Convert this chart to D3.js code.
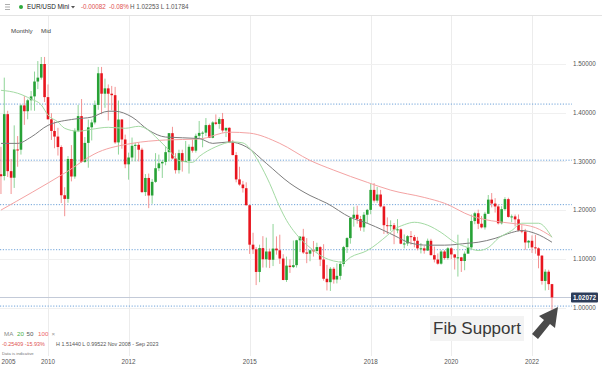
<!DOCTYPE html>
<html><head><meta charset="utf-8">
<script src="https://cdn.jsdelivr.net/npm/d3@7"></script>
<style>
body{margin:0;background:#fff;}
svg{display:block;font-family:"Liberation Sans",Arial,sans-serif;}
</style>
</head><body>
<svg id="chart" width="602" height="366"></svg>
<script>
// ---------- DATA ----------
const months = [
"2008-11","2008-12",
"2009-01","2009-02","2009-03","2009-04","2009-05","2009-06","2009-07","2009-08","2009-09","2009-10","2009-11","2009-12",
"2010-01","2010-02","2010-03","2010-04","2010-05","2010-06","2010-07","2010-08","2010-09","2010-10","2010-11","2010-12",
"2011-01","2011-02","2011-03","2011-04","2011-05","2011-06","2011-07","2011-08","2011-09","2011-10","2011-11","2011-12",
"2012-01","2012-02","2012-03","2012-04","2012-05","2012-06","2012-07","2012-08","2012-09","2012-10","2012-11","2012-12",
"2013-01","2013-02","2013-03","2013-04","2013-05","2013-06","2013-07","2013-08","2013-09","2013-10","2013-11","2013-12",
"2014-01","2014-02","2014-03","2014-04","2014-05","2014-06","2014-07","2014-08","2014-09","2014-10","2014-11","2014-12",
"2015-01","2015-02","2015-03","2015-04","2015-05","2015-06","2015-07","2015-08","2015-09","2015-10","2015-11","2015-12",
"2016-01","2016-02","2016-03","2016-04","2016-05","2016-06","2016-07","2016-08","2016-09","2016-10","2016-11","2016-12",
"2017-01","2017-02","2017-03","2017-04","2017-05","2017-06","2017-07","2017-08","2017-09","2017-10","2017-11","2017-12",
"2018-01","2018-02","2018-03","2018-04","2018-05","2018-06","2018-07","2018-08","2018-09","2018-10","2018-11","2018-12",
"2019-01","2019-02","2019-03","2019-04","2019-05","2019-06","2019-07","2019-08","2019-09","2019-10","2019-11","2019-12",
"2020-01","2020-02","2020-03","2020-04","2020-05","2020-06","2020-07","2020-08","2020-09","2020-10","2020-11","2020-12",
"2021-01","2021-02","2021-03","2021-04","2021-05","2021-06","2021-07","2021-08","2021-09","2021-10","2021-11","2021-12",
"2022-01","2022-02","2022-03","2022-04","2022-05","2022-06","2022-07"];

const open = [
1.2736,1.2700,
1.3970,1.2800,1.2665,1.3245,1.3240,1.4150,1.4030,1.4255,1.4335,1.4640,1.4720,1.5000,
1.4320,1.3865,1.3625,1.3510,1.3295,1.2305,1.2230,1.3050,1.2690,1.3630,1.3930,1.2990,
1.3380,1.3700,1.3800,1.4160,1.4810,1.4390,1.4500,1.4390,1.4360,1.3390,1.3860,1.3450,
1.2940,1.3080,1.3320,1.3340,1.3240,1.2370,1.2660,1.2300,1.2580,1.2860,1.2960,1.2990,
1.3190,1.3580,1.3060,1.2820,1.3170,1.2995,1.3010,1.3300,1.3220,1.3525,1.3585,1.3590,
1.3745,1.3485,1.3800,1.3770,1.3870,1.3635,1.3690,1.3390,1.3130,1.2630,1.2525,1.2450,
1.2100,1.1290,1.1195,1.0730,1.1220,1.0990,1.1150,1.0980,1.1210,1.1175,1.1005,1.0565,
1.0860,1.0830,1.0870,1.1380,1.1455,1.1130,1.1105,1.1175,1.1160,1.1240,1.0985,1.0590,
1.0520,1.0795,1.0575,1.0650,1.0895,1.1240,1.1425,1.1840,1.1905,1.1815,1.1645,1.1905,
1.2005,1.2415,1.2195,1.2320,1.2075,1.1690,1.1685,1.1690,1.1600,1.1605,1.1310,1.1315,
1.1465,1.1445,1.1370,1.1215,1.1215,1.1170,1.1370,1.1075,1.0985,1.0900,1.1150,1.1015,
1.1215,1.1090,1.1025,1.1030,1.0955,1.1105,1.1235,1.1775,1.1935,1.1720,1.1645,1.1925,
1.2215,1.2135,1.2075,1.1730,1.2020,1.2225,1.1860,1.1870,1.1810,1.1580,1.1560,1.1335,
1.1370,1.1235,1.1215,1.1065,1.0545,1.0735,1.0480];

const high = [
1.3300,1.4720,
1.4040,1.3050,1.3740,1.3520,1.4170,1.4340,1.4285,1.4445,1.4845,1.5060,1.5144,1.5145,
1.4580,1.3990,1.3820,1.3690,1.3330,1.2470,1.3110,1.3335,1.3680,1.4160,1.4280,1.3500,
1.3860,1.3860,1.4250,1.4940,1.4940,1.4700,1.4580,1.4550,1.4530,1.4250,1.3870,1.3550,
1.3180,1.3490,1.3385,1.3380,1.3280,1.2740,1.2750,1.2640,1.3170,1.3140,1.3030,1.3310,
1.3580,1.3710,1.3170,1.3240,1.3240,1.3420,1.3350,1.3450,1.3570,1.3830,1.3620,1.3890,
1.3775,1.3825,1.3965,1.3905,1.3995,1.3680,1.3700,1.3440,1.3190,1.2890,1.2600,1.2570,
1.2105,1.1535,1.1240,1.1290,1.1465,1.1435,1.1210,1.1715,1.1460,1.1495,1.1095,1.1045,
1.0990,1.1375,1.1390,1.1465,1.1615,1.1425,1.1185,1.1365,1.1330,1.1260,1.1300,1.0875,
1.0830,1.0830,1.0905,1.0950,1.1265,1.1445,1.1850,1.2070,1.2090,1.1880,1.1960,1.2025,
1.2535,1.2555,1.2475,1.2415,1.2095,1.1850,1.1790,1.1735,1.1815,1.1625,1.1500,1.1485,
1.1570,1.1490,1.1450,1.1325,1.1265,1.1415,1.1410,1.1250,1.1110,1.1180,1.1180,1.1240,
1.1240,1.1100,1.1495,1.1040,1.1150,1.1420,1.1910,1.1965,1.2010,1.1880,1.1965,1.2310,
1.2350,1.2245,1.2115,1.2080,1.2265,1.2255,1.1910,1.1910,1.1910,1.1690,1.1615,1.1385,
1.1480,1.1495,1.1235,1.1075,1.0785,1.0775,1.0485];

const low = [
1.2330,1.2610,
1.2680,1.2330,1.2455,1.2890,1.3140,1.3750,1.3865,1.4045,1.4040,1.4485,1.4680,1.4220,
1.3860,1.3440,1.3270,1.3120,1.2145,1.1875,1.2150,1.2590,1.2645,1.3600,1.2970,1.2970,
1.2870,1.3430,1.3760,1.4060,1.3970,1.4100,1.3840,1.4050,1.3360,1.3140,1.3260,1.2860,
1.2625,1.3000,1.3000,1.3000,1.2350,1.2290,1.2040,1.2130,1.2560,1.2800,1.2660,1.2920,
1.3000,1.3040,1.2750,1.2750,1.2790,1.2990,1.2750,1.3180,1.3180,1.3480,1.3290,1.3520,
1.3480,1.3475,1.3745,1.3670,1.3590,1.3500,1.3375,1.3125,1.2570,1.2500,1.2360,1.2095,
1.1100,1.1100,1.0460,1.0520,1.0820,1.0820,1.0810,1.0850,1.1085,1.0895,1.0560,1.0525,
1.0710,1.0810,1.0820,1.1140,1.1100,1.0910,1.0950,1.1045,1.1120,1.0850,1.0550,1.0350,
1.0340,1.0490,1.0495,1.0570,1.0840,1.1120,1.1310,1.1660,1.1720,1.1575,1.1555,1.1720,
1.1915,1.2155,1.2150,1.2055,1.1510,1.1510,1.1575,1.1300,1.1525,1.1300,1.1215,1.1265,
1.1290,1.1235,1.1175,1.1110,1.1105,1.1160,1.1070,1.0925,1.0880,1.0880,1.0980,1.0980,
1.0990,1.0780,1.0635,1.0730,1.0765,1.1170,1.1185,1.1710,1.1610,1.1625,1.1600,1.1920,
1.2055,1.1950,1.1705,1.1705,1.1985,1.1845,1.1750,1.1665,1.1565,1.1525,1.1185,1.1220,
1.1120,1.1105,1.0805,1.0470,1.0350,1.0360,0.9952];

const close = [
1.2695,1.3970,
1.2800,1.2665,1.3245,1.3240,1.4150,1.4030,1.4255,1.4335,1.4640,1.4720,1.5000,1.4320,
1.3865,1.3625,1.3510,1.3295,1.2305,1.2230,1.3050,1.2690,1.3630,1.3930,1.2990,1.3380,
1.3700,1.3800,1.4160,1.4810,1.4390,1.4500,1.4390,1.4360,1.3390,1.3860,1.3450,1.2940,
1.3080,1.3320,1.3340,1.3240,1.2370,1.2660,1.2300,1.2580,1.2860,1.2960,1.2990,1.3190,
1.3580,1.3060,1.2820,1.3170,1.2995,1.3010,1.3300,1.3220,1.3525,1.3585,1.3590,1.3745,
1.3485,1.3800,1.3770,1.3870,1.3635,1.3690,1.3390,1.3130,1.2630,1.2525,1.2450,1.2100,
1.1290,1.1195,1.0730,1.1220,1.0990,1.1150,1.0980,1.1210,1.1175,1.1005,1.0565,1.0860,
1.0830,1.0870,1.1380,1.1455,1.1130,1.1105,1.1175,1.1160,1.1240,1.0985,1.0590,1.0520,
1.0795,1.0575,1.0650,1.0895,1.1240,1.1425,1.1840,1.1905,1.1815,1.1645,1.1905,1.2005,
1.2415,1.2195,1.2320,1.2075,1.1690,1.1685,1.1690,1.1600,1.1605,1.1310,1.1315,1.1465,
1.1445,1.1370,1.1215,1.1215,1.1170,1.1370,1.1075,1.0985,1.0900,1.1150,1.1015,1.1215,
1.1090,1.1025,1.1030,1.0955,1.1105,1.1235,1.1775,1.1935,1.1720,1.1645,1.1925,1.2215,
1.2135,1.2075,1.1730,1.2020,1.2225,1.1860,1.1870,1.1810,1.1580,1.1560,1.1335,1.1370,
1.1235,1.1215,1.1065,1.0545,1.0735,1.0480,1.0207];

// Moving averages
const ma20Months = ["2008-11","2009-04","2009-08","2009-11","2010-01","2010-04","2010-06","2010-10","2011-02","2011-07","2011-12","2012-04","2012-06","2012-10","2013-01","2013-04","2013-08","2013-10","2014-03","2014-08","2014-11","2015-01","2015-04","2015-07","2015-10","2015-12","2016-02","2016-04","2016-07","2016-11","2017-05","2017-07","2017-12","2018-06","2018-08","2018-11","2019-02","2019-06","2019-10","2020-02","2020-06","2020-09","2020-12","2021-03","2021-07","2021-10","2022-03","2022-07"];
const ma20Values = [1.446,1.440,1.428,1.416,1.395,1.381,1.368,1.362,1.366,1.370,1.368,1.372,1.368,1.344,1.323,1.302,1.298,1.310,1.330,1.340,1.338,1.327,1.296,1.255,1.206,1.179,1.158,1.142,1.123,1.103,1.093,1.103,1.117,1.148,1.160,1.170,1.175,1.169,1.154,1.134,1.123,1.117,1.123,1.142,1.158,1.173,1.173,1.144];

const ma50Months = ["2008-11","2009-04","2009-08","2010-01","2010-09","2011-02","2011-07","2011-09","2012-02","2012-07","2012-12","2013-10","2014-02","2014-07","2014-12","2015-06","2016-01","2016-07","2016-12","2017-07","2017-12","2018-05","2018-08","2019-01","2019-06","2019-11","2020-06","2020-09","2021-02","2021-07","2021-10","2022-02","2022-07"];
const ma50Values = [1.337,1.337,1.350,1.374,1.387,1.391,1.403,1.403,1.391,1.364,1.350,1.347,1.337,1.340,1.330,1.296,1.255,1.230,1.214,1.185,1.173,1.158,1.148,1.132,1.128,1.128,1.132,1.134,1.142,1.154,1.158,1.152,1.134];

const ma100Months = ["2008-11","2010-06","2011-04","2012-02","2012-12","2013-10","2014-07","2015-01","2015-10","2016-07","2017-02","2017-12","2018-07","2019-05","2019-11","2020-07","2021-01","2021-08","2022-02","2022-07"];
const ma100Values = [1.200,1.276,1.319,1.337,1.344,1.346,1.360,1.358,1.337,1.302,1.282,1.257,1.241,1.226,1.214,1.188,1.178,1.172,1.164,1.145];

const fibLevels = [1.4177, 1.3025, 1.2112, 1.1187, 1.0029];
const priceTicks = [1.0, 1.1, 1.2, 1.3, 1.4, 1.5];
const yearTickMonths = ["2009-01","2010-01","2012-01","2015-01","2018-01","2020-01","2022-01"];
const yearTickLabels = ["2005","2010","2012","2015","2018","2020","2022"];
const gridMonths = ["2010-01","2012-01","2015-01","2018-01","2020-01","2022-01"];
const lastPrice = 1.02072;

// ---------- DRAW ----------
const svg = d3.select("#chart");
const W = 602, H = 366;
const parse = d3.timeParse("%Y-%m");
const x = d3.scaleTime().domain([parse("2010-01"), parse("2022-01")]).range([48, 532]);
const y = d3.scaleLinear().domain([1.0, 1.5]).range([307.5, 64]);

const plotRight = 566;
svg.append("defs").append("clipPath").attr("id","clip")
  .append("rect").attr("x",0).attr("y",16).attr("width",plotRight).attr("height",300);

// header
svg.append("line").attr("x1",0).attr("x2",W).attr("y1",15.5).attr("y2",15.5).attr("stroke","#e3e3e3");
const hdr = svg.append("g");
[4.5,7,9.5].forEach(v=>hdr.append("line").attr("x1",5).attr("x2",10).attr("y1",v).attr("y2",v).attr("stroke","#999").attr("stroke-width",0.8));
hdr.append("circle").attr("cx",21).attr("cy",7).attr("r",2).attr("fill","#2eaa3c");
hdr.append("text").attr("x",27).attr("y",9.3).attr("font-size",6.4).attr("fill","#222").text("EUR/USD Mini");
hdr.append("path").attr("d","M71,6 L75,6 L73,8.5 Z").attr("fill","#555");
hdr.append("text").attr("x",81).attr("y",9.3).attr("font-size",6.3).attr("fill","#e0524f").text("-0.00082");
hdr.append("text").attr("x",109).attr("y",9.3).attr("font-size",6.3).attr("fill","#e0524f").text("-0.08%");
hdr.append("text").attr("x",130).attr("y",9.3).attr("font-size",6.3).attr("fill","#555").text("H 1.02253 L 1.01784");

// vertical grid
svg.append("g").selectAll("line").data(gridMonths).join("line")
  .attr("x1",d=>Math.round(x(parse(d)))+0.5).attr("x2",d=>Math.round(x(parse(d)))+0.5)
  .attr("y1",16).attr("y2",356).attr("stroke","#ececec").attr("stroke-width",1);

// horizontal grid
svg.append("g").selectAll("line").data(priceTicks).join("line")
  .attr("x1",0).attr("x2",plotRight).attr("y1",d=>Math.round(y(d))+0.5).attr("y2",d=>Math.round(y(d))+0.5)
  .attr("stroke","#f0f0f0");

svg.append("text").attr("x",11).attr("y",33).attr("font-size",6.2).attr("fill","#444").text("Monthly");
svg.append("text").attr("x",41).attr("y",33).attr("font-size",6.2).attr("fill","#444").text("Mid");

// fib dotted lines
svg.append("g").selectAll("line").data(fibLevels).join("line")
  .attr("x1",0).attr("x2",572).attr("y1",d=>y(d)).attr("y2",d=>y(d))
  .attr("stroke","#6fa3d9").attr("stroke-width",1).attr("stroke-dasharray","1.2,1.6");

// last price line
svg.append("line").attr("x1",0).attr("x2",571).attr("y1",Math.round(y(lastPrice))+0.5).attr("y2",Math.round(y(lastPrice))+0.5)
  .attr("stroke","#c3cad8").attr("stroke-width",1);

// candles
const candles = months.map((m,i)=>({t:parse(m),o:open[i],h:high[i],l:low[i],c:close[i]}));
const cg = svg.append("g").attr("clip-path","url(#clip)");
const bw = 2.6;
cg.selectAll("line.w").data(candles).join("line").attr("class","w")
  .attr("x1",d=>x(d.t)).attr("x2",d=>x(d.t))
  .attr("y1",d=>y(d.h)).attr("y2",d=>y(d.l))
  .attr("stroke",d=>d.c>=d.o?"#8fd498":"#f39393").attr("stroke-width",1);
cg.selectAll("rect.b").data(candles).join("rect").attr("class","b")
  .attr("x",d=>x(d.t)-bw/2).attr("width",bw)
  .attr("y",d=>y(Math.max(d.o,d.c)))
  .attr("height",d=>Math.max(1,Math.abs(y(d.o)-y(d.c))))
  .attr("fill",d=>d.c>=d.o?"#27a236":"#e8151e");

// moving averages
function drawMA(ms, vs, color){
  const pts = ms.map((m,i)=>[x(parse(m)), y(vs[i])]);
  cg.append("path").attr("d", d3.line().curve(d3.curveMonotoneX)(pts))
    .attr("fill","none").attr("stroke",color).attr("stroke-width",1);
}
drawMA(ma100Months, ma100Values, "#f4a3a3");
drawMA(ma50Months, ma50Values, "#7d7d7d");
drawMA(ma20Months, ma20Values, "#a3daa3");

// right axis labels
const fmt = d3.format(".5f");
svg.append("g").selectAll("text").data(priceTicks).join("text")
  .attr("x",573).attr("y",d=>y(d)+2.2).attr("font-size",6.3).attr("fill","#555").text(d=>fmt(d));

// last price box
svg.append("rect").attr("x",571).attr("y",y(lastPrice)-5).attr("width",27).attr("height",10).attr("rx",1).attr("fill","#2d3d5a");
svg.append("text").attr("x",584.5).attr("y",y(lastPrice)+2.3).attr("text-anchor","middle").attr("font-size",6.4).attr("font-weight","bold").attr("fill","#fff").text(fmt(lastPrice));

// annotation
svg.append("rect").attr("x",430).attr("y",316).attr("width",94).attr("height",25).attr("fill","#f3f3f3");
svg.append("text").attr("x",433).attr("y",334).attr("font-size",17).attr("fill","#383838").text("Fib Support");
svg.append("path")
  .attr("d","M532,334 L544,320 L539,316 L558,307 L555,328 L550,324 L538,339 Z")
  .attr("fill","#4a4a4a");

// bottom legend
const lg = svg.append("text").attr("x",4).attr("y",335.5).attr("font-size",6.2);
lg.append("tspan").attr("fill","#888").text("MA");
lg.append("tspan").attr("x",17).attr("fill","#46b04a").text("20");
lg.append("tspan").attr("x",26.5).attr("fill","#555").text("50");
lg.append("tspan").attr("x",38).attr("fill","#e66").text("100");
lg.append("tspan").attr("x",51.5).attr("fill","#999").text("×");

const st = svg.append("text").attr("x",2).attr("y",346).attr("font-size",5.4);
st.append("tspan").attr("fill","#e0524f").text("-0.25409  -15.93%");
st.append("tspan").attr("x",56).attr("fill","#555").text("H 1.51440  L 0.99522  Nov 2008 - Sep 2023");
svg.append("text").attr("x",2).attr("y",354.5).attr("font-size",4.2).attr("fill","#777").text("Data is indicative");

// year labels
svg.append("g").selectAll("text").data(yearTickMonths).join("text")
  .attr("x",d=>Math.max(8.5, x(parse(d)))).attr("y",364).attr("text-anchor","middle")
  .attr("font-size",6.3).attr("fill","#555").text((d,i)=>yearTickLabels[i]);
</script>
</body></html>
